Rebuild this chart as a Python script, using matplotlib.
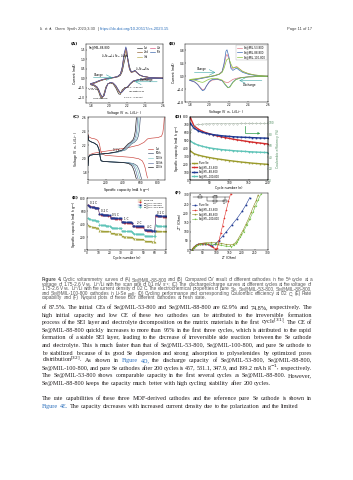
import matplotlib
matplotlib.use('Agg')
import matplotlib.pyplot as plt

# ---------------------------------------------------------------- data
# (A) CV of Se@MIL-88-800, cycles 1-5
cv_a_ox_v = [1.80, 1.85, 1.90, 1.95, 2.00, 2.05, 2.10, 2.13, 2.15, 2.17, 2.19, 2.20, 2.21,
             2.23, 2.25, 2.27, 2.29, 2.31, 2.34, 2.38, 2.44, 2.50, 2.60]
cv_a_red_v = [2.60, 2.50, 2.40, 2.32, 2.27, 2.24, 2.21, 2.18, 2.15, 2.13, 2.11, 2.08, 2.05,
              2.02, 1.99, 1.97, 1.95, 1.93, 1.91, 1.89, 1.87, 1.84, 1.80]
cv_a_labels = ['1st', '2nd', '3rd', '4th', '5th']
cv_a_ox = [
    [-0.32, -0.25, -0.15, -0.07, -0.02, 0.02, 0.07, 0.15, 0.35, 0.80, 1.20, 1.25, 1.10, 0.60, 0.35, 0.33, 0.38, 0.30, 0.18, 0.10, 0.05, 0.03, 0.01],
    [-0.30, -0.23, -0.13, -0.06, -0.01, 0.03, 0.09, 0.20, 0.50, 1.10, 1.45, 1.30, 0.95, 0.45, 0.30, 0.34, 0.40, 0.30, 0.17, 0.09, 0.05, 0.03, 0.01],
    [-0.30, -0.22, -0.12, -0.05, 0.00, 0.04, 0.10, 0.22, 0.55, 1.20, 1.55, 1.40, 1.00, 0.48, 0.31, 0.35, 0.40, 0.30, 0.17, 0.09, 0.05, 0.03, 0.01],
    [-0.29, -0.22, -0.12, -0.05, 0.00, 0.04, 0.10, 0.22, 0.58, 1.25, 1.60, 1.45, 1.03, 0.50, 0.32, 0.35, 0.41, 0.31, 0.18, 0.10, 0.05, 0.03, 0.01],
    [-0.28, -0.21, -0.11, -0.04, 0.00, 0.04, 0.10, 0.23, 0.60, 1.28, 1.65, 1.48, 1.05, 0.50, 0.32, 0.36, 0.42, 0.31, 0.18, 0.10, 0.05, 0.03, 0.01],
]
cv_a_red = [
    [0.00, -0.02, -0.05, -0.10, -0.18, -0.30, -0.48, -0.50, -0.60, -0.85, -0.82, -0.52, -0.30, -0.25, -0.30, -0.45, -0.78, -1.05, -1.00, -0.72, -0.52, -0.40, -0.34],
    [0.00, -0.01, -0.04, -0.09, -0.16, -0.29, -0.46, -0.52, -0.68, -0.80, -0.70, -0.44, -0.27, -0.23, -0.30, -0.52, -0.88, -1.02, -0.90, -0.64, -0.47, -0.37, -0.32],
    [0.00, -0.01, -0.03, -0.08, -0.15, -0.28, -0.45, -0.53, -0.70, -0.78, -0.66, -0.41, -0.26, -0.22, -0.30, -0.54, -0.90, -1.00, -0.86, -0.61, -0.46, -0.36, -0.31],
    [0.00, -0.01, -0.03, -0.08, -0.15, -0.27, -0.44, -0.54, -0.71, -0.77, -0.64, -0.40, -0.25, -0.22, -0.30, -0.55, -0.91, -0.99, -0.84, -0.60, -0.45, -0.35, -0.30],
    [0.00, -0.01, -0.03, -0.08, -0.14, -0.27, -0.44, -0.55, -0.72, -0.76, -0.63, -0.39, -0.25, -0.22, -0.30, -0.56, -0.92, -0.98, -0.83, -0.59, -0.44, -0.35, -0.30],
]

# (B) CV of the three MOF-derived cathodes, 5th cycle
cv_b_ox_v = [1.80, 1.85, 1.90, 1.95, 2.00, 2.05, 2.10, 2.13, 2.15, 2.17, 2.18, 2.20, 2.22,
             2.24, 2.26, 2.28, 2.30, 2.34, 2.40, 2.46, 2.52, 2.60]
cv_b_red_v = [2.60, 2.50, 2.40, 2.32, 2.27, 2.24, 2.21, 2.19, 2.16, 2.13, 2.08, 2.03,
              2.00, 1.97, 1.95, 1.93, 1.91, 1.88, 1.85, 1.80]
cv_b_labels = ['Se@MIL-53-800', 'Se@MIL-88-800', 'Se@MIL-100-800']
cv_b_ox = [
    [-0.12, -0.10, -0.07, -0.04, -0.01, 0.02, 0.07, 0.15, 0.35, 0.62, 0.68, 0.55, 0.30, 0.24, 0.28, 0.30, 0.25, 0.15, 0.08, 0.04, 0.02, 0.00],
    [-0.13, -0.11, -0.08, -0.05, -0.02, 0.01, 0.06, 0.14, 0.40, 0.78, 0.82, 0.60, 0.25, 0.18, 0.22, 0.25, 0.20, 0.12, 0.06, 0.03, 0.01, 0.00],
    [-0.10, -0.08, -0.06, -0.03, -0.01, 0.02, 0.06, 0.12, 0.25, 0.45, 0.52, 0.55, 0.38, 0.26, 0.27, 0.28, 0.24, 0.15, 0.08, 0.04, 0.02, 0.00],
]
cv_b_red = [
    [0.00, -0.01, -0.02, -0.04, -0.07, -0.10, -0.16, -0.20, -0.18, -0.13, -0.10, -0.12, -0.18, -0.30, -0.40, -0.42, -0.36, -0.25, -0.18, -0.13],
    [0.00, -0.01, -0.02, -0.05, -0.10, -0.18, -0.32, -0.36, -0.26, -0.14, -0.09, -0.10, -0.16, -0.30, -0.42, -0.45, -0.38, -0.26, -0.18, -0.13],
    [0.00, -0.01, -0.02, -0.05, -0.11, -0.20, -0.34, -0.35, -0.24, -0.12, -0.07, -0.07, -0.09, -0.13, -0.17, -0.19, -0.18, -0.15, -0.12, -0.10],
]

# (C) discharge/charge profiles
gc_labels = ['1st', '50th', '100th', '150th', '200th']
gc_dis_cap = [
    [0, 10, 40, 80, 110, 130, 145, 160, 200, 300, 400, 500, 580, 620, 640, 655, 668, 680],
    [0, 8, 30, 70, 105, 125, 140, 150, 180, 250, 350, 450, 520, 560, 580, 592, 602, 612],
    [0, 8, 30, 70, 105, 125, 140, 150, 180, 250, 340, 430, 500, 540, 560, 572, 582, 592],
    [0, 8, 30, 70, 105, 125, 140, 150, 180, 250, 330, 420, 485, 520, 540, 552, 562, 572],
    [0, 8, 30, 70, 105, 125, 140, 150, 180, 250, 320, 400, 465, 500, 520, 532, 542, 552],
]
gc_dis_v = [
    [2.36, 2.32, 2.30, 2.29, 2.27, 2.22, 2.12, 2.07, 2.05, 2.04, 2.03, 2.02, 2.00, 1.97, 1.92, 1.86, 1.78, 1.72],
    [2.34, 2.27, 2.25, 2.23, 2.20, 2.14, 2.02, 1.97, 1.96, 1.955, 1.95, 1.945, 1.93, 1.90, 1.85, 1.80, 1.75, 1.71],
    [2.34, 2.27, 2.25, 2.23, 2.20, 2.14, 2.02, 1.97, 1.96, 1.955, 1.95, 1.945, 1.93, 1.90, 1.85, 1.80, 1.75, 1.71],
    [2.34, 2.27, 2.25, 2.23, 2.20, 2.14, 2.02, 1.97, 1.96, 1.955, 1.95, 1.945, 1.93, 1.90, 1.85, 1.80, 1.75, 1.71],
    [2.34, 2.27, 2.25, 2.23, 2.20, 2.14, 2.02, 1.97, 1.96, 1.955, 1.95, 1.945, 1.93, 1.90, 1.85, 1.80, 1.75, 1.71],
]
gc_chg_cap = [
    [0, 5, 20, 60, 150, 300, 450, 580, 640, 680, 720, 800, 840, 855, 865, 872],
    [0, 5, 20, 60, 150, 250, 350, 430, 470, 500, 530, 560, 575, 585, 592, 598],
    [0, 5, 20, 60, 150, 250, 340, 420, 460, 490, 515, 545, 560, 570, 577, 583],
    [0, 5, 20, 60, 150, 240, 330, 405, 445, 475, 500, 530, 545, 555, 562, 568],
    [0, 5, 20, 60, 150, 230, 320, 395, 430, 460, 485, 515, 530, 540, 547, 553],
]
gc_chg_v = [
    [1.92, 2.02, 2.06, 2.08, 2.10, 2.13, 2.16, 2.20, 2.24, 2.29, 2.30, 2.31, 2.33, 2.38, 2.48, 2.60],
    [1.90, 2.02, 2.05, 2.06, 2.07, 2.08, 2.10, 2.13, 2.18, 2.22, 2.24, 2.28, 2.33, 2.40, 2.50, 2.60],
    [1.90, 2.02, 2.05, 2.06, 2.07, 2.08, 2.10, 2.13, 2.18, 2.22, 2.24, 2.28, 2.33, 2.40, 2.50, 2.60],
    [1.90, 2.02, 2.05, 2.06, 2.07, 2.08, 2.10, 2.13, 2.18, 2.22, 2.24, 2.28, 2.33, 2.40, 2.50, 2.60],
    [1.90, 2.02, 2.05, 2.06, 2.07, 2.08, 2.10, 2.13, 2.18, 2.22, 2.24, 2.28, 2.33, 2.40, 2.50, 2.60],
]

# (D) cycling at 0.2 C, read every 10 cycles
cyc_n = [1, 10, 20, 30, 40, 50, 60, 70, 80, 90, 100, 110, 120, 130, 140, 150, 160, 170, 180, 190, 200]
cathodes = ['Pure Se', 'Se@MIL-53-800', 'Se@MIL-88-800', 'Se@MIL-100-800']
cyc_cap = [
    [370, 335, 318, 305, 295, 285, 276, 268, 261, 254, 247, 241, 235, 229, 224, 219, 214, 210, 206, 202, 199],
    [790, 690, 650, 622, 602, 587, 572, 560, 549, 539, 529, 519, 511, 503, 495, 488, 481, 475, 469, 463, 457],
    [720, 660, 628, 608, 594, 584, 576, 569, 563, 558, 554, 550, 547, 544, 542, 540, 538, 536, 534, 532, 531],
    [495, 465, 445, 430, 418, 408, 400, 393, 387, 382, 377, 373, 369, 366, 363, 360, 357, 355, 352, 350, 348],
]
cyc_ce = [84, 95, 97, 97.5, 98, 98, 98.2, 98.3, 98.4, 98.5, 98.5, 98.6, 98.6, 98.7, 98.7, 98.8, 98.8, 98.8, 98.9, 98.9, 99]

# (E) rate capability, 10 cycles per rate
rate_names = ['0.1 C', '0.2 C', '0.5 C', '1 C', '2 C', '4 C', '0.1 C']
rate_cap = [
    [385, 372, 365, 360, 356, 352, 349, 346, 344, 342,
     300, 296, 294, 292, 290, 289, 288, 287, 286, 285,
     262, 258, 256, 254, 252, 251, 250, 249, 248, 247,
     212, 208, 206, 204, 203, 202, 201, 200, 199, 198,
     178, 174, 172, 170, 169, 168, 167, 166, 165, 164,
     142, 138, 136, 134, 133, 132, 131, 130, 129, 128,
     298, 294, 292, 291, 290, 289, 288, 287, 286, 285],
    [700, 682, 672, 665, 660, 656, 652, 649, 646, 643,
     552, 546, 542, 539, 537, 535, 533, 531, 529, 527,
     494, 490, 487, 485, 483, 481, 479, 477, 475, 473,
     430, 425, 422, 420, 418, 416, 414, 412, 410, 408,
     368, 364, 361, 359, 357, 355, 353, 351, 349, 347,
     306, 301, 298, 296, 294, 292, 290, 288, 286, 285,
     530, 524, 521, 519, 517, 516, 515, 514, 513, 512],
    [690, 676, 668, 663, 659, 656, 653, 651, 649, 647,
     556, 550, 547, 545, 543, 541, 540, 539, 538, 537,
     500, 496, 494, 492, 490, 489, 488, 487, 486, 485,
     438, 434, 432, 430, 428, 427, 426, 425, 424, 423,
     376, 372, 370, 368, 367, 366, 365, 364, 363, 362,
     312, 308, 306, 304, 303, 302, 301, 300, 299, 298,
     536, 531, 528, 526, 525, 524, 523, 522, 521, 520],
    [495, 482, 474, 468, 463, 459, 456, 453, 450, 448,
     392, 386, 383, 381, 379, 377, 376, 375, 374, 373,
     348, 344, 342, 340, 339, 338, 337, 336, 335, 334,
     298, 294, 292, 290, 289, 288, 287, 286, 285, 284,
     256, 252, 250, 249, 248, 247, 246, 245, 244, 243,
     222, 218, 216, 215, 214, 213, 212, 211, 210, 209,
     380, 375, 372, 370, 369, 368, 367, 366, 365, 364],
]

# (F) Nyquist plots
nyq_labels = ['Pure Se', 'Se@MIL-53-800', 'Se@MIL-88-800', 'Se@MIL-100-800']
nyq_re = [
    [8, 14, 22, 32, 45, 58, 70, 78, 86, 96, 110, 125, 140, 160, 180, 200, 215, 230],
    [8, 12, 20, 30, 40, 50, 60, 70, 80, 88, 95, 100, 104, 108, 112, 118, 125, 132, 140, 148, 156],
    [8, 15, 25, 40, 60, 80, 100, 120, 140, 155, 165, 175, 185, 195, 205, 215, 225, 235, 245, 255, 262],
    [8, 15, 25, 40, 60, 80, 100, 120, 140, 158, 170, 182, 194, 206, 218, 230, 242, 252, 262, 272],
]
nyq_im = [
    [2, 15, 25, 32, 35, 34, 30, 25, 24, 32, 50, 75, 100, 135, 170, 210, 245, 285],
    [2, 12, 22, 30, 34, 35, 34, 30, 22, 14, 8, 7, 12, 30, 55, 90, 130, 175, 220, 265, 305],
    [2, 15, 27, 35, 40, 42, 40, 36, 30, 28, 30, 40, 60, 85, 110, 140, 170, 205, 240, 270, 300],
    [2, 12, 22, 30, 33, 33, 30, 25, 20, 18, 25, 45, 70, 100, 135, 170, 205, 240, 272, 302],
]

# page text
caption = [
    'Figure 4. Cyclic voltammetry curves of (A) Se@MIL-88-800 and (B) Compared CV result of different cathodes in the 5ᵗʰ cycle at a',
    'voltage of 1.75-2.6 V vs. Li⁺/Li with the scan rate of 0.1 mV s⁻¹; (C) The discharge/charge curves at different cycles at the voltage of',
    '1.75-2.6 V vs. Li⁺/Li with the current density of 0.2 C. The electrochemical properties of pure Se, Se@MIL-53-800, Se@MIL-88-800,',
    'and Se@MIL-100-800 cathodes in Li-Se cell; (D) Cycling performance and corresponding Coulombic efficiency at 0.2 C; (E) Rate',
    'capability and (F) Nyquist plots of these four different cathodes at fresh state.',
]
body = [
    'of 87.5%. The initial CEs of Se@MIL-53-800 and Se@MIL-88-800 are 62.9% and 74.8%, respectively. The',
    'high initial capacity and low CE of these two cathodes can be attributed to the irreversible formation',
    'process of the SEI layer and electrolyte decomposition on the matrix materials in the first cycle$^{[31]}$. The CE of',
    'Se@MIL-88-800 quickly increases to more than 95% in the first three cycles, which is attributed to the rapid',
    'formation of a stable SEI layer, leading to the decrease of irreversible side reaction between the Se cathode',
    'and electrolyte. This is much faster than that of Se@MIL-53-800, Se@MIL-100-800, and pure Se cathode to',
    'be stabilized because of its good Se dispersion and strong adsorption to polyselenides by optimized pores',
    'distribution$^{[32]}$. As shown in Figure 4D, the discharge capacity of Se@MIL-53-800, Se@MIL-88-800,',
    'Se@MIL-100-800, and pure Se cathodes after 200 cycles is 457, 531.1, 347.9, and 199.2 mA h g$^{-1}$, respectively.',
    'The Se@MIL-53-800 shows comparable capacity in the first several cycles as Se@MIL-88-800. However,',
    'Se@MIL-88-800 keeps the capacity much better with high cycling stability after 200 cycles.',
    None,
    'The rate capabilities of these three MOF-derived cathodes and the reference pure Se cathode is shown in',
    'Figure 4E. The capacity decreases with increased current density due to the polarization and the limited',
]
body_last = {10, 13}          # paragraph ends (not justified)
body_blue = {7: (4, 5), 13: (0, 1)}

# ---------------------------------------------------------------- figure
W, H = 353, 480
fig = plt.figure(figsize=(W / 100, H / 100), dpi=100)
fig.patch.set_facecolor('white')
SANS = ['Liberation Sans', 'DejaVu Sans']
SERIF = 'Liberation Serif'
TS = 2.1   # tick label size
LS = 2.3   # axis label size


def box(l, t, r, b):
    ax = fig.add_axes([l / W, 1 - b / H, (r - l) / W, (b - t) / H])
    for s in ax.spines.values():
        s.set_linewidth(0.35)
    ax.tick_params(direction='in', length=1.0, width=0.3, labelsize=TS, pad=0.8)
    return ax


def labels(ax, xl, yl, tag):
    ax.set_xlabel(xl, fontsize=LS, labelpad=0.8)
    ax.set_ylabel(yl, fontsize=LS, labelpad=0.8)
    ax.text(-0.2, 1.0, tag, transform=ax.transAxes, fontsize=3.0, fontweight='bold',
            ha='left', va='center')


teal = '#3aa6a6'

# (A)
ax = box(86, 44, 163, 103)
cols_a = ['#2b2b2b', '#8b5a2b', '#b5a642', '#d94f7a', '#2f5da8']
for i in range(5):
    ax.plot(cv_a_ox_v, cv_a_ox[i], color=cols_a[i], lw=0.45, label=cv_a_labels[i])
    ax.plot(cv_a_red_v, cv_a_red[i], color=cols_a[i], lw=0.45)
ax.set_xlim(1.75, 2.6)
ax.set_ylim(-1.3, 1.8)
ax.set_xticks([1.8, 2.0, 2.2, 2.4, 2.6])
ax.set_yticks([-1.0, -0.5, 0.0, 0.5, 1.0, 1.5])
ax.legend(loc='upper right', ncol=2, fontsize=1.8, frameon=False, handlelength=2,
          columnspacing=0.6, borderaxespad=0.3, labelspacing=0.2)
ax.text(0.04, 0.92, 'Se@MIL-88-800', transform=ax.transAxes, fontsize=2.0)
ax.text(0.2, 0.78, 'Li$_2$Se$_4$→Li$_2$Se$_6$, Li$_2$Se$_8$', transform=ax.transAxes, fontsize=1.8)
ax.text(0.63, 0.55, 'Li$_2$Se$_n$→Se$_8$', transform=ax.transAxes, fontsize=1.8)
ax.annotate('', xy=(0.38, 0.43), xytext=(0.06, 0.43), xycoords='axes fraction',
            arrowprops=dict(arrowstyle='->', color=teal, lw=0.4))
ax.text(0.1, 0.46, 'Charge', transform=ax.transAxes, fontsize=2.0)
ax.annotate('', xy=(0.6, 0.36), xytext=(0.96, 0.36), xycoords='axes fraction',
            arrowprops=dict(arrowstyle='->', color=teal, lw=0.4))
ax.text(0.7, 0.38, 'Discharge', transform=ax.transAxes, fontsize=2.0)
ax.text(0.03, 0.22, '1.93 V\n-1.00 mA', transform=ax.transAxes, fontsize=1.7)
ax.text(0.08, 0.05, 'Li$_2$Se$_4$→Li$_2$Se', transform=ax.transAxes, fontsize=1.7)
ax.text(0.5, 0.25, '2.11 V, -0.80 mA', transform=ax.transAxes, fontsize=1.6)
ax.text(0.55, 0.17, 'Li$_2$Se$_8$→Li$_2$Se$_6$', transform=ax.transAxes, fontsize=1.6)
ax.text(0.5, 0.09, '2.21 V, -0.50 mA', transform=ax.transAxes, fontsize=1.6)
labels(ax, 'Voltage (V vs. Li/Li$^+$)', 'Current (mA)', '(A)')

# (B)
ax = box(185, 44, 268, 102)
cols_b = ['#e07a8a', '#3f6fb5', '#8dc63f']
for i in range(3):
    ax.plot(cv_b_ox_v, cv_b_ox[i], color=cols_b[i], lw=0.5, label=cv_b_labels[i])
    ax.plot(cv_b_red_v, cv_b_red[i], color=cols_b[i], lw=0.5)
ax.set_xlim(1.75, 2.6)
ax.set_ylim(-0.8, 1.0)
ax.set_xticks([1.8, 2.0, 2.2, 2.4, 2.6])
ax.set_yticks([-0.8, -0.4, 0.0, 0.4, 0.8])
ax.legend(loc='upper right', fontsize=1.9, frameon=True, edgecolor='#999999', fancybox=False,
          handlelength=2, borderaxespad=0.3, labelspacing=0.2).get_frame().set_linewidth(0.3)
ax.annotate('', xy=(0.4, 0.51), xytext=(0.08, 0.51), xycoords='axes fraction',
            arrowprops=dict(arrowstyle='->', color=teal, lw=0.4))
ax.text(0.14, 0.55, 'Charge', transform=ax.transAxes, fontsize=2.0)
ax.annotate('', xy=(0.62, 0.37), xytext=(0.96, 0.37), xycoords='axes fraction',
            arrowprops=dict(arrowstyle='->', color=teal, lw=0.4))
ax.text(0.7, 0.28, 'Discharge', transform=ax.transAxes, fontsize=2.0)
labels(ax, 'Voltage (V vs. Li/Li$^+$)', 'Current (mA)', '(B)')

# (C)
ax = box(88, 117, 165, 180)
cols_c = ['#c8403a', '#3d4a6b', '#7fc8c8', '#5a6fa0', '#111111']
for i in range(5):
    ax.plot(gc_dis_cap[i], gc_dis_v[i], color=cols_c[i], lw=0.45, label=gc_labels[i])
    ax.plot(gc_chg_cap[i], gc_chg_v[i], color=cols_c[i], lw=0.45)
ax.set_xlim(0, 880)
ax.set_ylim(1.69, 2.61)
ax.set_xticks([0, 200, 400, 600, 800])
ax.set_yticks([1.8, 2.0, 2.2, 2.4, 2.6])
ax.text(0.33, 0.46, '0.1 V', transform=ax.transAxes, fontsize=1.8)
ax.legend(loc='center right', fontsize=1.8, frameon=False, handlelength=2,
          labelspacing=0.25, bbox_to_anchor=(1.0, 0.35))
labels(ax, 'Specific capacity (mA h g$^{-1}$)', 'Voltage (V vs. Li/Li$^+$)', '(C)')

# (D)
ax = box(190, 117, 268, 180)
cols_d = ['#9a9a2a', '#d32f2f', '#1f3a93', '#5fc4b8']
marks = ['^', 'o', 's', 'D']
for i in range(4):
    ax.plot(cyc_n, cyc_cap[i], color=cols_d[i], lw=1.0, marker=marks[i], ms=0.9,
            mew=0.2, label=cathodes[i])
ax.set_xlim(0, 200)
ax.set_ylim(0, 800)
ax.set_xticks([0, 50, 100, 150, 200])
ax.set_yticks(range(0, 801, 100))
ax.legend(loc='lower left', fontsize=1.8, frameon=False, handlelength=2, labelspacing=0.2,
          borderaxespad=0.3)
ax2 = ax.twinx()
for s in ax2.spines.values():
    s.set_linewidth(0.35)
ax2.plot(cyc_n, cyc_ce, color='#8a9a8a', lw=0.3, marker='o', ms=1.0, mfc='none', mew=0.25)
ax2.set_ylim(0, 110)
ax2.set_yticks([0, 20, 40, 60, 80, 100])
ax2.tick_params(direction='in', length=1.0, width=0.3, labelsize=TS, pad=0.8, colors='#4a8a5a')
ax2.set_ylabel('Coulombic efficiency (%)', fontsize=LS, labelpad=0.8, color='#4a8a5a')
ax2.plot([0.71, 0.71, 0.86], [0.86, 0.74, 0.74], transform=ax.transAxes, color='#2e9e4a', lw=0.5)
ax2.annotate('', xy=(0.9, 0.74), xytext=(0.84, 0.74), xycoords='axes fraction',
             arrowprops=dict(arrowstyle='-|>', color='#2e9e4a', lw=0.5, mutation_scale=3))
labels(ax, 'Cycle number (n)', 'Specific capacity (mA h g$^{-1}$)', '(D)')

# (E)
ax = box(87, 198, 166, 250)
cyc_e = list(range(1, 71))
for i in range(4):
    ax.plot(cyc_e, rate_cap[i], color=cols_d[i], lw=0.3, marker=marks[i], ms=1.0,
            mew=0.2, label=cathodes[i])
ax.set_xlim(0, 70)
ax.set_ylim(0, 800)
ax.set_xticks(range(0, 71, 10))
ax.set_yticks([0, 200, 400, 600, 800])
rate_pos = [(3, 710), (12, 585), (22, 525), (33, 460), (44, 400), (53, 335), (62, 560)]
for name, (x, y) in zip(rate_names, rate_pos):
    ax.text(x, y, name, fontsize=2.0)
ax.legend(loc='upper right', fontsize=1.7, frameon=False, handlelength=2, labelspacing=0.1,
          borderaxespad=0.2)
labels(ax, 'Cycle number (n)', 'Specific capacity (mA h g$^{-1}$)', '(E)')

# (F)
ax = box(190, 193, 268, 250)
cols_f = ['#1f3a93', '#e0302a', '#8a8a20', '#6abf3a']
marks_f = ['s', 'o', '^', 'v']
for i in range(4):
    ax.plot(nyq_re[i], nyq_im[i], color=cols_f[i], lw=0.4, marker=marks_f[i], ms=0.9,
            mew=0.2, label=nyq_labels[i])
ax.set_xlim(0, 300)
ax.set_ylim(0, 310)
ax.set_xticks(range(0, 301, 50))
ax.set_yticks(range(0, 301, 50))
ax.legend(loc='upper left', fontsize=1.8, frameon=False, handlelength=2, labelspacing=0.2,
          bbox_to_anchor=(0.0, 0.86))
# equivalent circuit inset
ax.plot([0.04, 0.5], [0.93, 0.93], transform=ax.transAxes, color='k', lw=0.3)
ax.plot([0.22, 0.22, 0.45, 0.45], [0.93, 0.86, 0.86, 0.93], transform=ax.transAxes, color='k', lw=0.3)
for xr, yr in [(0.1, 0.93), (0.3, 0.93), (0.3, 0.86), (0.42, 0.86)]:
    ax.add_patch(plt.Rectangle((xr, yr - 0.015), 0.05, 0.03, transform=ax.transAxes,
                               facecolor='white', edgecolor='k', lw=0.3))
ax.text(0.1, 0.955, 'R$_s$', transform=ax.transAxes, fontsize=1.6)
ax.text(0.3, 0.955, 'CPE', transform=ax.transAxes, fontsize=1.6)
ax.text(0.28, 0.80, 'R$_{ct}$', transform=ax.transAxes, fontsize=1.6)
ax.text(0.42, 0.80, 'W', transform=ax.transAxes, fontsize=1.6)
labels(ax, "Z' (Ohm)", "-Z'' (Ohm)", '(F)')

# ---------------------------------------------------------------- page text
renderer = fig.canvas.get_renderer()


def text_w(s, size, family, weight='normal'):
    t = fig.text(0, 0, s, fontsize=size, family=family, fontweight=weight)
    w = t.get_window_extent(renderer).width
    t.remove()
    return w


def space_w(size, family):
    return text_w('a a', size, family) - text_w('aa', size, family)


def natural_w(line, size, family):
    words = line.split(' ')
    return sum(text_w(w, size, family) for w in words) + space_w(size, family) * (len(words) - 1)


def put_line(line, x0, x1, y, size, family, color, justify=True, blue=(), bold=()):
    words = line.split(' ')
    items = []
    for k, w in enumerate(words):
        c = '#2a6ebb' if k in blue else color
        items.append(fig.text(0, 0, w, fontsize=size, family=family, color=c, va='baseline',
                              fontweight='bold' if k in bold else 'normal'))
    widths = [t.get_window_extent(renderer).width for t in items]
    sp = space_w(size, family)
    gap = sp
    if justify and len(words) > 1:
        gap = max((x1 - x0 - sum(widths)) / (len(words) - 1), 0.45 * sp)
    x = x0
    for t, w in zip(items, widths):
        t.set_position((x / W, 1 - y / H))
        x += w + gap


LEFT, RIGHT = 42, 312

# header
put_line('Li et al. Chem Synth 2023;3:30 | https://dx.doi.org/10.20517/cs.2023.15',
         40, 195, 30, 3.0, SANS, '#444444', justify=False, blue=(7,))
fig.text(RIGHT / W, 1 - 30 / H, 'Page 11 of 17', fontsize=3.0, family=SANS, color='#444444',
         ha='right', va='baseline')

# caption: size chosen so that the typical full line fills the column
base = 3.0
cw = sorted(natural_w(l, base, SANS) for l in caption[:-1])
cap_size = base * (RIGHT - LEFT) * 1.0 / cw[len(cw) // 2]
cy = 281
for k, line in enumerate(caption):
    put_line(line, LEFT, RIGHT, cy, cap_size, SANS, '#555555', justify=(k < 4),
             bold=(0, 1) if k == 0 else ())
    cy += 4.6

# body text
base = 4.2
full = [l for k, l in enumerate(body) if l is not None and k not in body_last]
ws = sorted(natural_w(l, base, SERIF) for l in full)
body_size = base * (RIGHT - LEFT) * 0.99 / ws[len(ws) // 2]
by = 309
for k, line in enumerate(body):
    if line is None:
        by += 7.8
        continue
    put_line(line, LEFT, RIGHT, by, body_size, SERIF, '#231f20', justify=(k not in body_last),
             blue=body_blue.get(k, ()))
    by += 7.6

fig.savefig('out.png', dpi=100, facecolor='white')
